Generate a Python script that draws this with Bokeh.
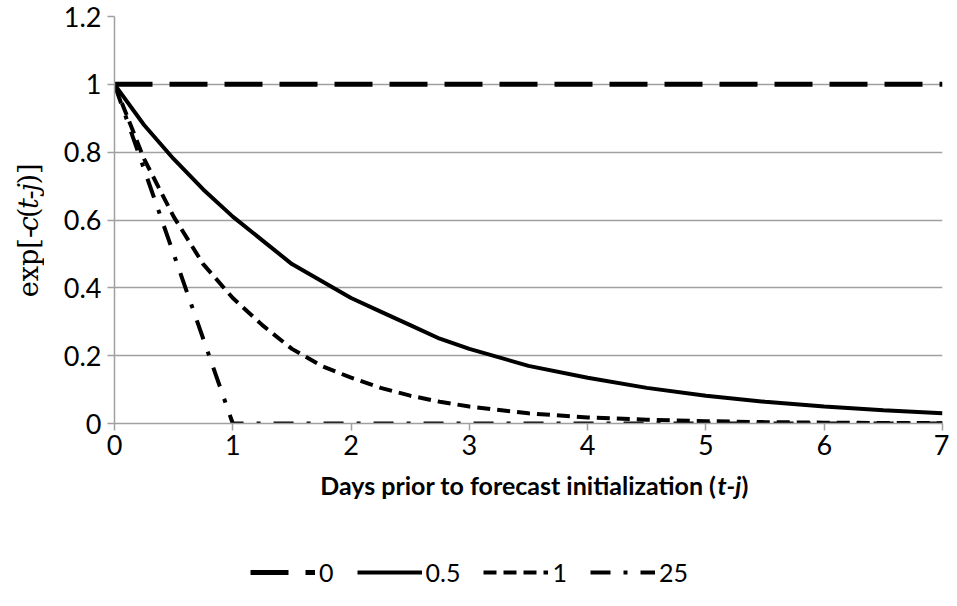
from math import pi
from bokeh.plotting import figure
from bokeh.models import Range1d, Label, Legend, LegendItem, FixedTicker
from bokeh.layouts import row, column
from bokeh.embed import file_html
from bokeh.resources import INLINE

# ---- data ----
days = [0, 1, 2, 3, 4, 5, 6, 7]
t_fine = [0, 0.25, 0.5, 0.75, 1, 1.25, 1.5, 1.75, 2, 2.25, 2.5, 2.75, 3,
          3.5, 4, 4.5, 5, 5.5, 6, 6.5, 7]
c0_vals = [1, 1, 1, 1, 1, 1, 1, 1]
c05_vals = [1, 0.88, 0.78, 0.69, 0.61, 0.54, 0.47, 0.42, 0.37, 0.33, 0.29,
            0.25, 0.22, 0.17, 0.135, 0.105, 0.082, 0.064, 0.05, 0.039, 0.03]
c1_vals = [1, 0.78, 0.61, 0.47, 0.37, 0.29, 0.22, 0.17, 0.135, 0.105, 0.082,
           0.064, 0.05, 0.03, 0.018, 0.011, 0.007, 0.004, 0.0025, 0.0015, 0.001]
c25_vals = [1, 0, 0, 0, 0, 0, 0, 0]
series_names = ["0", "0.5", "1", "25"]
y_ticks = [0, 0.2, 0.4, 0.6, 0.8, 1, 1.2]
y_tick_labels = ["0", "0.2", "0.4", "0.6", "0.8", "1", "1.2"]
x_title = "Days prior to forecast initialization ("
x_title_it = "t-j"
x_title_end = ")"
y_title_parts = [("exp[-", "normal"), ("c", "italic"), ("(", "normal"), ("t", "italic"),
                 ("-", "normal"), ("j", "italic"), (")]", "normal")]

GRAY = "#A0A0A0"
FONT = "Lato"
SERIF = "DejaVu Serif"

TOTAL_W, TOTAL_H = 949, 590
LW = 44            # left strip (y title)
MH = 467           # main figure height
BH = TOTAL_H - MH  # bottom strip (x title + legend)
MW = TOTAL_W - LW

styles = [dict(line_width=5, line_dash="38 17"),
          dict(line_width=4),
          dict(line_width=4, line_dash="13 7"),
          dict(line_width=4, line_dash="20 13 4 13")]

# ---------------- main plot ----------------
p = figure(width=MW, height=MH, x_range=Range1d(0, 7), y_range=Range1d(0, 1.2),
           output_backend="svg", toolbar_location=None,
           min_border_left=114 - LW, min_border_right=7, min_border_top=16,
           min_border_bottom=MH - 423)
p.outline_line_color = None
for ax in (p.xaxis[0], p.yaxis[0]):
    ax.axis_line_color = GRAY
    ax.axis_line_width = 1.5
    ax.major_tick_line_color = GRAY
    ax.major_tick_line_width = 1.5
    ax.major_tick_out = 7
    ax.major_tick_in = 0
    ax.minor_tick_line_color = None
    ax.major_label_text_font = FONT
    ax.major_label_text_font_size = "27px"
    ax.major_label_text_color = "#000000"
p.yaxis.major_label_standoff = 6
p.xaxis.major_label_standoff = 4
p.xaxis.ticker = FixedTicker(ticks=days)
p.yaxis.ticker = FixedTicker(ticks=y_ticks)
p.yaxis.major_label_overrides = {t: l for t, l in zip(y_ticks, y_tick_labels)}
p.xgrid.grid_line_color = None
p.ygrid.grid_line_color = GRAY
p.ygrid.grid_line_width = 1.5

p.line(days, c0_vals, line_color="black", **styles[0])
p.line(t_fine, c05_vals, line_color="black", **styles[1])
p.line(t_fine, c1_vals, line_color="black", **styles[2])
p.line(days, c25_vals, line_color="black", **styles[3])

# ---------------- left strip: y title ----------------
left = figure(width=LW, height=MH, x_range=Range1d(0, LW), y_range=Range1d(MH, 0),
              output_backend="svg", toolbar_location=None,
              x_axis_type=None, y_axis_type=None, min_border=0)
left.outline_line_color = None
left.xgrid.visible = False
left.ygrid.visible = False
ysize = 27
em = [2.8, 0.56, 0.39, 0.40, 0.34, 0.30, 0.78]  # approx advance widths (em)
pos = 322.0  # start (bottom) of the rotated title, px from top
for (txt, style), w in zip(y_title_parts, em):
    left.add_layout(Label(x=28, y=pos, text=txt, angle=pi / 2, text_align="left",
                          text_baseline="middle", text_font=SERIF,
                          text_font_size=f"{ysize}px", text_font_style=style,
                          text_color="black"))
    pos -= w * ysize

# ---------------- bottom strip: x title + legend ----------------
bottom = figure(width=TOTAL_W, height=BH, x_range=Range1d(0, TOTAL_W), y_range=Range1d(BH, 0),
                output_backend="svg", toolbar_location=None,
                x_axis_type=None, y_axis_type=None, min_border=0)
bottom.outline_line_color = None
bottom.xgrid.visible = False
bottom.ygrid.visible = False

X0 = 716
TY = 484 - MH
tsize = "25px"
bottom.add_layout(Label(x=X0, y=TY, text=x_title, text_align="right", text_baseline="middle",
                        text_font=FONT, text_font_size=tsize, text_font_style="bold",
                        text_color="black"))
bottom.add_layout(Label(x=X0 + 1, y=TY, text=x_title_it, text_align="left", text_baseline="middle",
                        text_font=FONT, text_font_size=tsize, text_font_style="bold italic",
                        text_color="black"))
bottom.add_layout(Label(x=X0 + 25, y=TY, text=x_title_end, text_align="left", text_baseline="middle",
                        text_font=FONT, text_font_size=tsize, text_font_style="bold",
                        text_color="black"))

nan = float("nan")
legend_renderers = [bottom.line(x=[nan], y=[nan], line_color="black", **s) for s in styles]
legend = Legend(
    items=[LegendItem(label=n, renderers=[r]) for n, r in zip(series_names, legend_renderers)],
    orientation="horizontal", location=(250, 3),
    glyph_width=65, glyph_height=26, label_standoff=4, spacing=23, label_width=0,
    padding=0, margin=0, border_line_color=None, background_fill_alpha=0,
    label_text_font=FONT, label_text_font_size="25px", label_text_baseline="middle",
    label_text_color="black",
)
bottom.add_layout(legend, "center")

layout = column(row(left, p, spacing=0), bottom, spacing=0)
open("out.html", "w").write(file_html(layout, INLINE))
